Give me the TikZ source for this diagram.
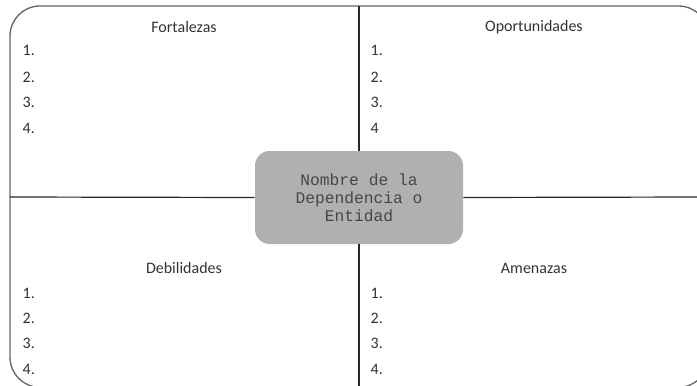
\documentclass[tikz,border=0pt]{standalone}
\usepackage{fontspec}
\setmainfont{Carlito}
\setmonofont{Liberation Mono}

\tikzset{
  quadtitle/.style={text=black!80,font=\fontsize{12}{14}\selectfont},
  itemnum/.style={anchor=west,text=black!80,font=\fontsize{12}{14}\selectfont},
  centerbox/.style={draw=none,fill=black!31,rounded corners=11pt,
    minimum width=156pt,minimum height=69.75pt,align=center,text=black!72,
    font=\ttfamily\fontsize{12.2}{13.5}\selectfont},
  divider/.style={draw=black!85,line width=0.9pt},
  frame/.style={draw=black!60,line width=1pt,rounded corners=22.5pt}
}

\begin{document}
\begin{tikzpicture}[x=0.75pt,y=-0.75pt]
\useasboundingbox (0,0) rectangle (697,386);
\clip (0,0) rectangle (697,386);
% outer frame (right and bottom edges run off the page)
\draw[frame] (10,6) rectangle (708.5,387.3);

% centre box and the two dividers
\coordinate (top) at (359,6);
\coordinate (bottom) at (359,390);
\coordinate (left) at (10,197);
\coordinate (right) at (700,197);
\node[centerbox] (entidad) at (359,197.5) {Nombre de la\\Dependencia o\\Entidad};
\draw[divider] (top) -- (entidad.north);
\draw[divider] (entidad.south) -- (bottom);
\draw[divider] (left) -- (entidad.west);
\draw[divider] (entidad.east) -- (right);

% quadrant titles
\node[quadtitle] (fortalezas) at (184,27) {Fortalezas};
\node[quadtitle] (oportunidades) at (534,27) {Oportunidades};
\node[quadtitle] (debilidades) at (184,268) {Debilidades};
\node[quadtitle] (amenazas) at (534,268) {Amenazas};

% numbered items
\foreach \n/\y in {1/50,2/77,3/102,4/128}{
  \node[itemnum] (f\n) at (18,\y) {\n.};
}
\foreach \n/\y in {1/50,2/77,3/102}{
  \node[itemnum] (o\n) at (366,\y) {\n.};
}
\node[itemnum] (o4) at (366,128) {4};
\foreach \n/\y in {1/293,2/318,3/343,4/369}{
  \node[itemnum] (d\n) at (18,\y) {\n.};
  \node[itemnum] (a\n) at (366,\y) {\n.};
}
\end{tikzpicture}
\end{document}
